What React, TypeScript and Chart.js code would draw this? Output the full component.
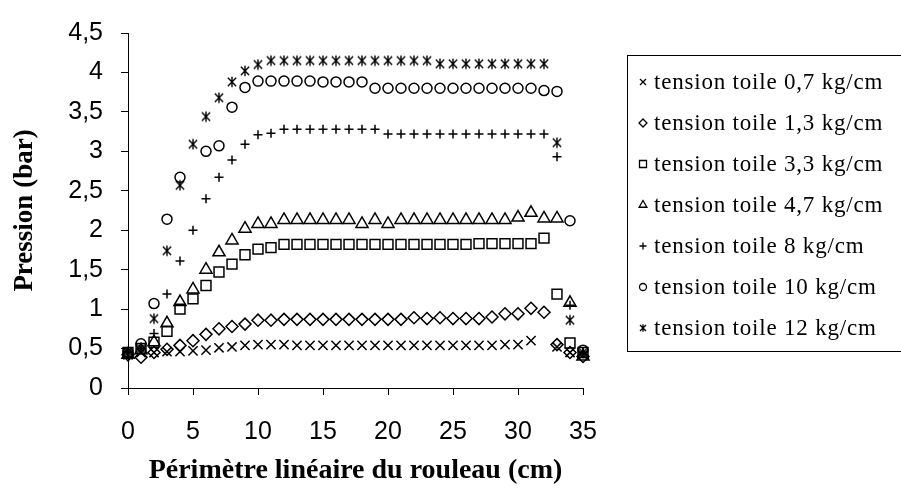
import React, { useEffect, useRef } from 'react';
import { Chart, registerables } from 'chart.js';

Chart.register(...registerables);

// Périmètre linéaire du rouleau (cm)
const perimetre = [0, 1, 2, 3, 4, 5, 6, 7, 8, 9, 10, 11, 12, 13, 14, 15, 16, 17, 18, 19, 20, 21, 22, 23, 24, 25, 26, 27, 28, 29, 30, 31, 32, 33, 34, 35];

// Pression (bar) per tension
const tension07 = [0.42, 0.45, 0.45, 0.46, 0.46, 0.47, 0.48, 0.51, 0.52, 0.54, 0.55, 0.55, 0.55, 0.54, 0.54, 0.54, 0.54, 0.54, 0.54, 0.54, 0.54, 0.54, 0.54, 0.54, 0.54, 0.54, 0.54, 0.54, 0.54, 0.55, 0.55, 0.6, null, 0.52, 0.45, 0.42];
const tension13 = [0.42, 0.39, 0.45, 0.49, 0.54, 0.6, 0.68, 0.75, 0.78, 0.81, 0.86, 0.86, 0.87, 0.87, 0.87, 0.87, 0.87, 0.87, 0.87, 0.87, 0.87, 0.87, 0.89, 0.88, 0.89, 0.88, 0.88, 0.88, 0.9, 0.94, 0.94, 1.01, 0.96, 0.55, 0.45, 0.4];
const tension33 = [0.45, 0.5, 0.58, 0.72, 1.0, 1.13, 1.3, 1.47, 1.57, 1.69, 1.76, 1.78, 1.82, 1.82, 1.82, 1.82, 1.82, 1.82, 1.82, 1.82, 1.82, 1.82, 1.82, 1.82, 1.82, 1.82, 1.82, 1.83, 1.83, 1.83, 1.83, 1.83, 1.9, 1.19, 0.57, 0.45];
const tension47 = [0.42, 0.48, 0.58, 0.82, 1.09, 1.25, 1.5, 1.72, 1.87, 2.02, 2.08, 2.08, 2.13, 2.13, 2.13, 2.13, 2.13, 2.13, 2.08, 2.13, 2.08, 2.13, 2.13, 2.13, 2.13, 2.13, 2.13, 2.13, 2.13, 2.13, 2.16, 2.22, 2.15, 2.15, 1.08, 0.4];
const tension8 = [0.45, 0.5, 0.69, 1.19, 1.61, 2.0, 2.4, 2.67, 2.89, 3.09, 3.21, 3.23, 3.28, 3.28, 3.28, 3.28, 3.28, 3.28, 3.28, 3.28, 3.22, 3.22, 3.22, 3.22, 3.22, 3.22, 3.22, 3.22, 3.22, 3.22, 3.22, 3.22, 3.22, 2.93, 1.05, 0.45];
const tension10 = [0.45, 0.56, 1.07, 2.14, 2.67, null, 3.0, 3.07, 3.56, 3.81, 3.89, 3.89, 3.89, 3.89, 3.89, 3.88, 3.88, 3.88, 3.88, 3.8, 3.8, 3.8, 3.8, 3.8, 3.8, 3.8, 3.8, 3.8, 3.8, 3.8, 3.8, 3.8, 3.77, 3.76, 2.12, 0.48];
const tension12 = [0.45, 0.5, 0.88, 1.74, 2.57, 3.09, 3.44, 3.68, 3.88, 4.02, 4.1, 4.15, 4.15, 4.15, 4.15, 4.15, 4.15, 4.15, 4.15, 4.15, 4.15, 4.15, 4.15, 4.15, 4.11, 4.11, 4.11, 4.11, 4.11, 4.11, 4.11, 4.11, 4.11, 3.11, 0.86, 0.45];

const seriesLabels = [
  'tension toile 0,7 kg/cm',
  'tension toile 1,3 kg/cm',
  'tension toile 3,3 kg/cm',
  'tension toile 4,7 kg/cm',
  'tension toile 8 kg/cm',
  'tension toile 10 kg/cm',
  'tension toile 12 kg/cm',
];
const seriesValues = [tension07, tension13, tension33, tension47, tension8, tension10, tension12];
const markerKinds = ['crossRot', 'rectRot', 'rect', 'triangle', 'cross', 'circle', 'asterisk'];
const markerRadius = [6.5, 6, 7, 7, 4.5, 5, 5.5];

const yTicks = [0, 0.5, 1, 1.5, 2, 2.5, 3, 3.5, 4, 4.5];

function makeAsterisk(size: number, lw: number) {
  const c = document.createElement('canvas');
  c.width = size;
  c.height = size;
  const g = c.getContext('2d')!;
  g.strokeStyle = '#000';
  g.lineWidth = lw;
  const m = size / 2;
  const r = size / 2 - 0.8;
  const d = r * 0.8;
  g.beginPath();
  g.moveTo(m - d, m - d); g.lineTo(m + d, m + d);
  g.moveTo(m + d, m - d); g.lineTo(m - d, m + d);
  g.moveTo(m, m - r); g.lineTo(m, m + r);
  g.stroke();
  return c;
}

function drawLegendMarker(ctx: CanvasRenderingContext2D, kind: string, x: number, y: number) {
  ctx.save();
  ctx.strokeStyle = '#000';
  ctx.lineWidth = 1.3;
  ctx.beginPath();
  if (kind === 'crossRot') {
    const r = 3;
    ctx.moveTo(x - r, y - r); ctx.lineTo(x + r, y + r);
    ctx.moveTo(x + r, y - r); ctx.lineTo(x - r, y + r);
  } else if (kind === 'rectRot') {
    const r = 4;
    ctx.moveTo(x, y - r); ctx.lineTo(x + r, y); ctx.lineTo(x, y + r); ctx.lineTo(x - r, y); ctx.closePath();
  } else if (kind === 'rect') {
    ctx.rect(x - 3.5, y - 3.5, 7, 7);
  } else if (kind === 'triangle') {
    const r = 4.5;
    ctx.moveTo(x, y - r); ctx.lineTo(x + r * 0.866, y + r / 2); ctx.lineTo(x - r * 0.866, y + r / 2); ctx.closePath();
  } else if (kind === 'cross') {
    const r = 3.5;
    ctx.moveTo(x - r, y); ctx.lineTo(x + r, y);
    ctx.moveTo(x, y - r); ctx.lineTo(x, y + r);
  } else if (kind === 'circle') {
    ctx.arc(x, y, 3.5, 0, Math.PI * 2);
  } else {
    const r = 3.8, d = 3;
    ctx.moveTo(x - d, y - d); ctx.lineTo(x + d, y + d);
    ctx.moveTo(x + d, y - d); ctx.lineTo(x - d, y + d);
    ctx.moveTo(x, y - r); ctx.lineTo(x, y + r);
  }
  ctx.stroke();
  ctx.restore();
}

const legendBox = {
  id: 'legendBox',
  afterDraw(chart: any) {
    const ctx: CanvasRenderingContext2D = chart.ctx;
    ctx.save();
    ctx.strokeStyle = '#000';
    ctx.lineWidth = 1;
    ctx.strokeRect(627.5, 55.5, 290, 296);
    ctx.fillStyle = '#000';
    ctx.font = '23px "Liberation Serif", "Times New Roman", serif';
    ctx.textBaseline = 'middle';
    ctx.textAlign = 'left';
    try { (ctx as any).letterSpacing = '0.8px'; } catch (e) { /* ignore */ }
    seriesLabels.forEach((label, i) => {
      const cy = 82 + i * 41;
      drawLegendMarker(ctx, markerKinds[i], 643, cy);
      ctx.fillText(label, 654, cy + 1);
    });
    ctx.restore();
  },
};

export default function App() {
  const ref = useRef<HTMLCanvasElement>(null);
  useEffect(() => {
    const canvas = ref.current;
    if (!canvas) return;
    const asterisk = makeAsterisk(12, 1.4);
    const datasets = seriesLabels.map((label, i) => ({
      label,
      data: perimetre
        .map((x, j) => ({ x, y: seriesValues[i][j] }))
        .filter((p) => p.y !== null),
      pointStyle: markerKinds[i] === 'asterisk' ? asterisk : markerKinds[i],
      pointRadius: markerRadius[i],
      borderColor: '#000',
      backgroundColor: 'rgba(0,0,0,0)',
      pointBorderWidth: 1.5,
      showLine: false,
      clip: false as any,
    }));
    const chart = new Chart(canvas, {
      type: 'scatter',
      data: { datasets: datasets as any },
      plugins: [legendBox],
      options: {
        responsive: true,
        maintainAspectRatio: false,
        animation: false,
        layout: { padding: { left: 0, right: 318, top: 23, bottom: 0 } },
        plugins: { legend: { display: false }, tooltip: { enabled: false } },
        scales: {
          x: {
            type: 'linear',
            min: 0,
            max: 35,
            ticks: {
              stepSize: 5,
              color: '#000',
              padding: 22,
              font: { family: '"Liberation Sans", Arial, sans-serif', size: 25 },
            },
            grid: { drawOnChartArea: false, drawTicks: true, tickLength: 7, color: '#000' },
            border: { color: '#000', width: 1 },
            title: {
              display: true,
              text: 'Périmètre linéaire du rouleau (cm)',
              color: '#000',
              font: { family: '"Liberation Serif", "Times New Roman", serif', size: 28, weight: 'bold' },
              padding: { top: 0, bottom: 15 },
            },
            afterFit: (s: any) => { s.height = 503 - 388; },
          },
          y: {
            type: 'linear',
            min: 0,
            max: 4.5,
            afterBuildTicks: (s: any) => { s.ticks = yTicks.map((v) => ({ value: v })); },
            ticks: {
              color: '#000',
              padding: 18,
              font: { family: '"Liberation Sans", Arial, sans-serif', size: 25 },
              callback: (v: any) => String(v).replace('.', ','),
            },
            grid: { drawOnChartArea: false, drawTicks: true, tickLength: 7, color: '#000' },
            border: { color: '#000', width: 1 },
            title: {
              display: true,
              text: 'Pression (bar)',
              color: '#000',
              font: { family: '"Liberation Serif", "Times New Roman", serif', size: 27, weight: 'bold' },
              padding: { top: 9, bottom: 0 },
            },
            afterFit: (s: any) => { s.width = 128; },
          },
        },
      } as any,
    });
    return () => chart.destroy();
  }, []);
  return (
    <div style={{ position: 'fixed', left: 0, top: 0, width: 901, height: 503, background: '#fff' }}>
      <canvas ref={ref} />
    </div>
  );
}
